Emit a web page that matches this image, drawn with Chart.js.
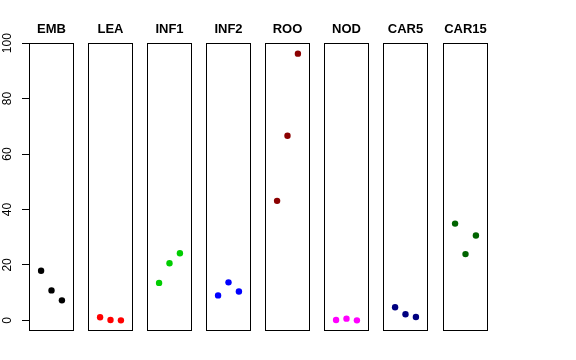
<!DOCTYPE html>
<html>
<head>
<meta charset="utf-8">
<script src="https://cdn.jsdelivr.net/npm/chart.js@4/dist/chart.umd.min.js"></script>
<style>
  html, body { margin: 0; padding: 0; background: #ffffff; }
  #wrap { position: relative; width: 576px; height: 360px; overflow: hidden; background: #fff; }
  #wrap canvas { position: absolute; top: 0; }
</style>
</head>
<body>
<div id="wrap"></div>
<script>
// ---- data ----
const panels = ['EMB', 'LEA', 'INF1', 'INF2', 'ROO', 'NOD', 'CAR5', 'CAR15'];
const panelColors = ['#000000', '#FF0000', '#00CD00', '#0000FF', '#8B0000', '#FF00FF', '#000080', '#006400'];
const replicate = [1, 2, 3];
const EMB   = [17.9, 10.8, 7.2];
const LEA   = [1.1, 0.1, 0.0];
const INF1  = [13.5, 20.6, 24.2];
const INF2  = [9.0, 13.7, 10.4];
const ROO   = [43.1, 66.6, 96.2];
const NOD   = [0.1, 0.6, 0.0];
const CAR5  = [4.7, 2.2, 1.2];
const CAR15 = [34.9, 23.9, 30.6];
const yTicks = [0, 20, 40, 60, 80, 100];
const seriesValues = [EMB, LEA, INF1, INF2, ROO, NOD, CAR5, CAR15];

// ---- layout ----
const wrap = document.getElementById('wrap');
const panelLeft = [29, 88, 147, 206, 265, 324, 383, 443];
const panelWidth = 45;
const axisWidth = 29;

const boxPlugin = {
  id: 'box',
  afterDraw(chart) {
    const a = chart.chartArea;
    const ctx = chart.ctx;
    ctx.save();
    ctx.strokeStyle = '#000000';
    ctx.lineWidth = 1;
    ctx.strokeRect(Math.round(a.left) + 0.5, Math.round(a.top) + 0.5,
                   Math.round(a.right - a.left) - 1, Math.round(a.bottom - a.top) - 1);
    ctx.restore();
  }
};

panels.forEach((name, i) => {
  const first = i === 0;
  const cv = document.createElement('canvas');
  const left = first ? 0 : panelLeft[i];
  const w = first ? panelLeft[0] + panelWidth : panelWidth;
  cv.width = w; cv.height = 360;
  cv.style.left = left + 'px';
  cv.style.width = w + 'px'; cv.style.height = '360px';
  wrap.appendChild(cv);

  new Chart(cv, {
    type: 'scatter',
    data: {
      datasets: [{
        label: name,
        data: replicate.map((x, j) => ({ x: x, y: seriesValues[i][j] })),
        backgroundColor: panelColors[i],
        borderColor: panelColors[i],
        pointRadius: 3.2,
        pointBorderWidth: 0,
        pointHoverRadius: 3.2
      }]
    },
    options: {
      responsive: false,
      animation: false,
      devicePixelRatio: 1,
      layout: { autoPadding: false, padding: { top: 0, bottom: 29, left: 0, right: 0 } },
      plugins: {
        legend: { display: false },
        tooltip: { enabled: false },
        title: {
          display: true,
          text: name,
          fullSize: false,
          color: '#000000',
          font: { family: '"Liberation Sans", Arial, Helvetica, sans-serif', size: 13, weight: 'bold', lineHeight: 1.2 },
          padding: { top: 21.4, bottom: 6 }
        }
      },
      scales: {
        x: {
          type: 'linear', display: false, min: -0.16, max: 4.16
        },
        y: {
          type: 'linear',
          display: first,
          min: -3.85, max: 100.05,
          afterBuildTicks: (s) => { s.ticks = yTicks.map(v => ({ value: v })); },
          afterFit: (s) => { if (first) { s.width = axisWidth; } },
          border: { display: false },
          grid: { drawOnChartArea: false, drawTicks: true, tickLength: 7, tickColor: '#000000', tickWidth: 1 },
          ticks: {
            color: '#000000',
            font: { family: '"Liberation Sans", Arial, Helvetica, sans-serif', size: 12 },
            minRotation: 90, maxRotation: 90,
            crossAlign: 'center',
            padding: 4,
            autoSkip: false
          }
        }
      }
    },
    plugins: [boxPlugin]
  });
});
</script>
</body>
</html>
